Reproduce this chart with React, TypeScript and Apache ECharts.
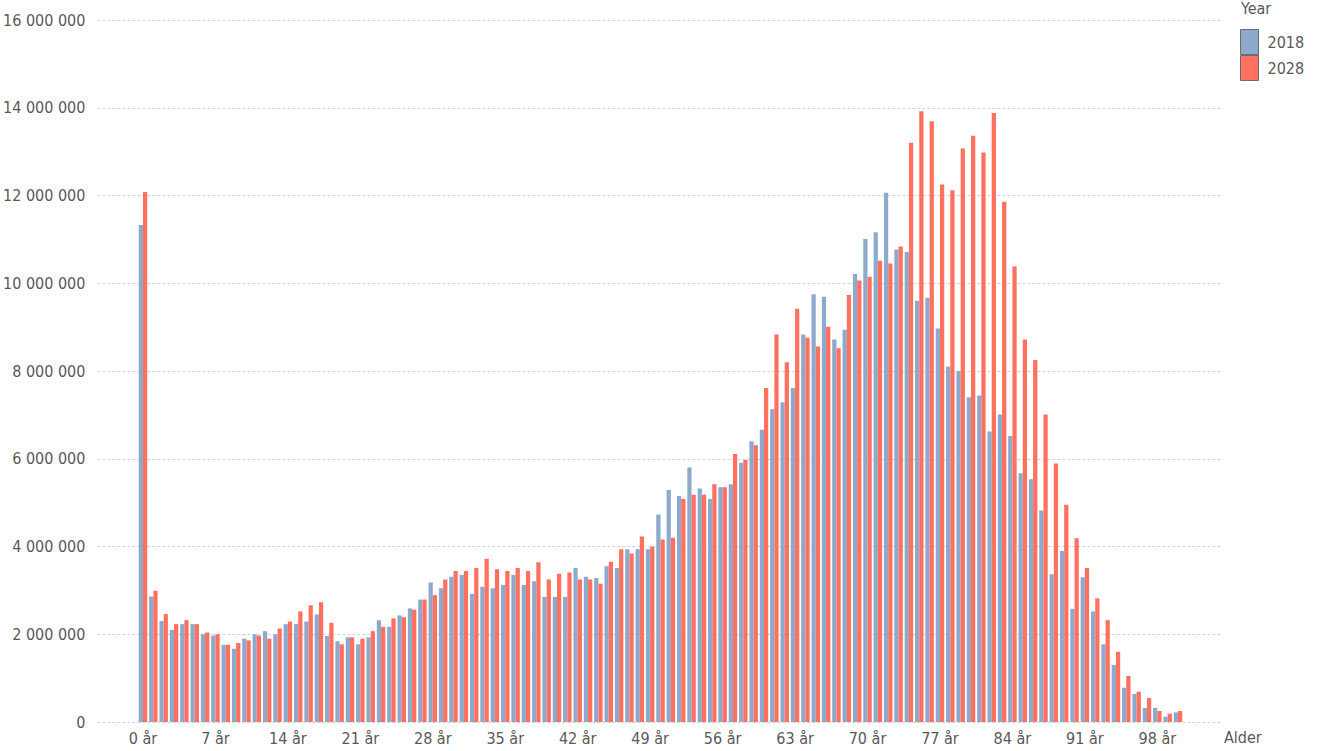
import React, { useEffect, useRef } from "react";
import * as echarts from "echarts";

const ages: string[] = Array.from({ length: 101 }, (_, i) => `${i} år`);

const y2018: number[] = [
  11330000, 2860000, 2300000, 2100000, 2230000, 2230000, 2000000, 1970000, 1760000, 1670000,
  1900000, 2000000, 2070000, 2000000, 2230000, 2230000, 2290000, 2450000, 1960000, 1840000,
  1930000, 1770000, 1930000, 2320000, 2170000, 2430000, 2590000, 2790000, 3180000, 3050000,
  3310000, 3350000, 2920000, 3080000, 3050000, 3120000, 3350000, 3120000, 3210000, 2850000,
  2850000, 2850000, 3510000, 3310000, 3280000, 3550000, 3510000, 3940000, 3940000, 3940000,
  4730000, 5290000, 5150000, 5800000, 5320000, 5080000, 5350000, 5420000, 5910000, 6400000,
  6660000, 7130000, 7290000, 7610000, 8830000, 9750000, 9690000, 8720000, 8940000, 10210000,
  11010000, 11160000, 12060000, 10770000, 10710000, 9600000, 9670000, 8970000, 8100000, 8000000,
  7400000, 7440000, 6620000, 7010000, 6520000, 5670000, 5530000, 4820000, 3370000, 3900000,
  2580000, 3300000, 2520000, 1770000, 1300000, 780000, 640000, 320000, 320000, 120000,
  220000,
];

const y2028: number[] = [
  12080000, 2990000, 2460000, 2230000, 2320000, 2230000, 2040000, 2000000, 1760000, 1800000,
  1860000, 1970000, 1900000, 2130000, 2290000, 2520000, 2660000, 2730000, 2260000, 1770000,
  1930000, 1900000, 2070000, 2170000, 2360000, 2390000, 2560000, 2790000, 2890000, 3250000,
  3440000, 3440000, 3510000, 3720000, 3480000, 3440000, 3510000, 3440000, 3640000, 3250000,
  3380000, 3410000, 3250000, 3250000, 3150000, 3650000, 3940000, 3840000, 4230000, 4000000,
  4160000, 4200000, 5080000, 5180000, 5180000, 5420000, 5350000, 6110000, 5970000, 6310000,
  7610000, 8830000, 8200000, 9420000, 8760000, 8560000, 9010000, 8520000, 9730000, 10060000,
  10150000, 10510000, 10450000, 10840000, 13200000, 13920000, 13690000, 12250000, 12120000, 13070000,
  13360000, 12980000, 13880000, 11860000, 10380000, 8720000, 8250000, 7010000, 5890000, 4950000,
  4190000, 3510000, 2820000, 2320000, 1600000, 1050000, 690000, 550000, 250000, 190000,
  250000,
];

const seriesNames: string[] = ["2018", "2028"];
const colors: string[] = ["#8DA9CB", "#FF705F"];

const FONT = "'Liberation Sans Narrow', 'Arial Narrow', 'DejaVu Sans Condensed', sans-serif";
const TEXT = "#595959";

const fmt = (v: number) => String(Math.round(v)).replace(/\B(?=(\d{3})+(?!\d))/g, " ");

export default function App() {
  const ref = useRef<HTMLDivElement>(null);
  useEffect(() => {
    if (!ref.current) return;
    const chart = echarts.init(ref.current, undefined, { renderer: "svg" });
    chart.setOption({
      animation: false,
      backgroundColor: "#ffffff",
      textStyle: { fontFamily: FONT },
      color: colors,
      grid: [
        { left: 97, right: 95, top: 20, bottom: 29 },
        { left: 137.8, width: 1045.4, top: 20, bottom: 29 },
      ],
      legend: {
        orient: "vertical",
        left: 1240,
        top: 29,
        padding: 0,
        itemWidth: 18,
        itemHeight: 25,
        itemGap: 0,
        icon: "rect",
        itemStyle: { borderColor: "#6b6b6b", borderWidth: 1 },
        textStyle: { fontFamily: FONT, fontSize: 16, color: TEXT, padding: [0, 0, 0, 4] },
        data: seriesNames,
      },
      graphic: [
        {
          type: "text",
          left: 1241,
          top: 0,
          style: { text: "Year", fontFamily: FONT, fontSize: 16, fill: TEXT },
        },
        {
          type: "text",
          left: 1224,
          top: 729,
          style: { text: "Alder", fontFamily: FONT, fontSize: 16, fill: TEXT },
        },
      ],
      xAxis: [
        { type: "value", gridIndex: 0, show: false, min: 0, max: 1 },
        {
          type: "category",
          gridIndex: 1,
          data: ages,
          axisLine: { show: false },
          axisTick: { show: false },
          axisLabel: {
            interval: 6,
            color: TEXT,
            fontFamily: FONT,
            fontSize: 16,
            margin: 8,
          },
        },
      ],
      yAxis: [
        {
          type: "value",
          gridIndex: 0,
          min: 0,
          max: 16000000,
          interval: 2000000,
          axisLine: { show: false },
          axisTick: { show: false },
          axisLabel: {
            color: TEXT,
            fontFamily: FONT,
            fontSize: 16,
            margin: 12,
            formatter: (v: number) => fmt(v),
          },
          splitLine: { lineStyle: { color: "#d4d4d4", type: [3, 2], width: 1 } },
        },
        {
          type: "value",
          gridIndex: 1,
          min: 0,
          max: 16000000,
          interval: 2000000,
          show: false,
          splitLine: { show: false },
        },
      ],
      series: [
        {
          name: seriesNames[0],
          type: "bar",
          xAxisIndex: 1,
          yAxisIndex: 1,
          data: y2018,
          barGap: "0%",
          barCategoryGap: "18%",
          itemStyle: { color: colors[0] },
        },
        {
          name: seriesNames[1],
          type: "bar",
          xAxisIndex: 1,
          yAxisIndex: 1,
          data: y2028,
          barGap: "0%",
          barCategoryGap: "18%",
          itemStyle: { color: colors[1] },
        },
      ],
    });
    return () => chart.dispose();
  }, []);
  return (
    <div
      ref={ref}
      style={{ position: "fixed", left: 0, top: 0, width: 1317, height: 751, background: "#fff" }}
    />
  );
}
